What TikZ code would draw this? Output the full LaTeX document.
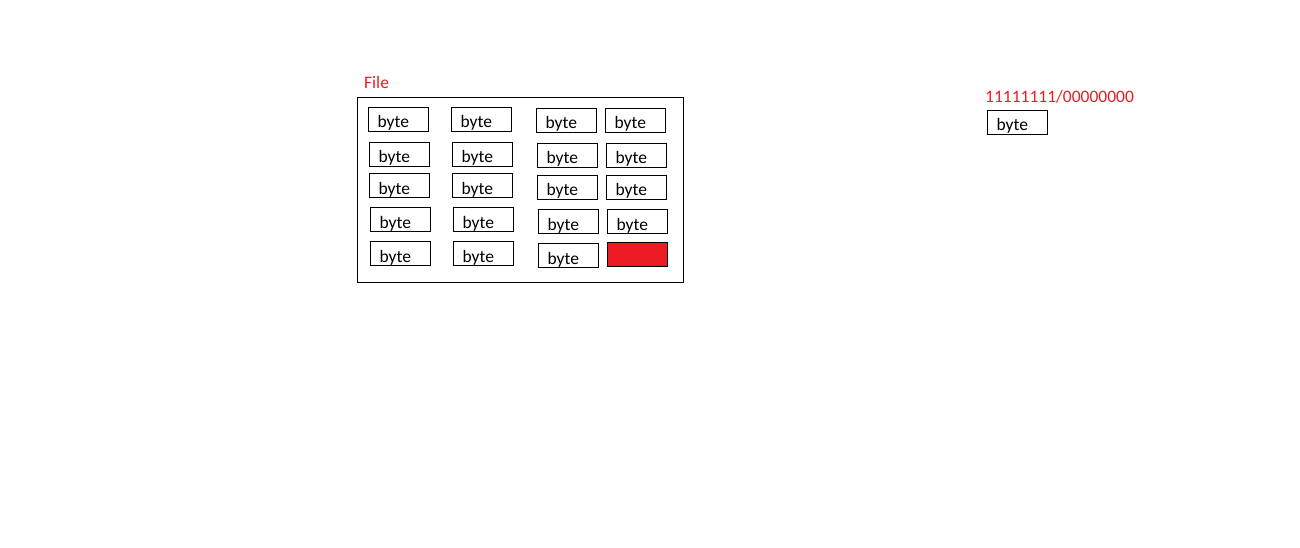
\documentclass[tikz,border=0pt]{standalone}
\usepackage{fontspec}
\setmainfont{Carlito}
\definecolor{TagClr}{RGB}{237,28,36}

\begin{document}
\begin{tikzpicture}[x=1pt,y=-1pt,
  bytebox/.style={draw=black,line width=0.9pt,rectangle,minimum height=24pt,
    text width=41pt,inner xsep=9.5pt,inner ysep=0pt,align=left,
    text height=21pt,text depth=3pt,
    font=\fontsize{17.5}{19}\selectfont},
  tag/.style={text=TagClr,inner sep=0pt,font=\fontsize{17.5}{19}\selectfont}]
\useasboundingbox (0,0) rectangle (1300,548);

% file container
\node[draw=black,line width=0.9pt,minimum width=326pt,minimum height=185pt,
  inner sep=0pt] (file) at (520,189.5) {};
\node[tag,anchor=west] (filelbl) at (364,82) {File};

% bytes in the file
\foreach \x/\y/\n in {398/119/b11,481/119/b12,566/120/b13,635/120/b14,
  399/154/b21,482/154/b22,567/155/b23,636/155/b24,
  399/185/b31,482/185/b32,567/187/b33,636/187/b34,
  400/219/b41,483/219/b42,568/221/b43,637/221/b44,
  400/253/b51,483/253/b52,568/255/b53}
  \node[bytebox] (\n) at (\x,\y) {byte};
\node[bytebox,fill=TagClr] (b54) at (637,254.5) {};

% single byte on the right
\node[tag,anchor=west] (bits) at (985,97) {11111111/00000000};
\node[bytebox] (single) at (1017,122) {byte};

\end{tikzpicture}
\end{document}
